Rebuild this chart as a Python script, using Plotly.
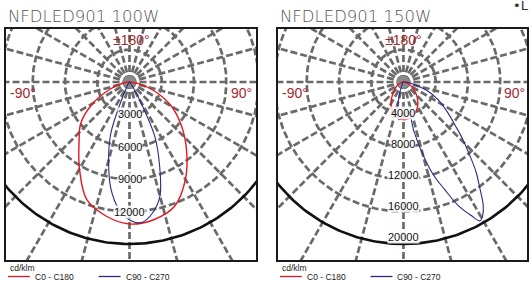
import numpy as np
import plotly.graph_objects as go

# ---------------- data ----------------
titles = ["NFDLED901 100W", "NFDLED901 150W"]
series_names = ["C0 - C180", "C90 - C270"]
unit_label = "cd/klm"

# gamma angles in degrees (negative = C180 / C270 half, positive = C0 / C90 half)
gamma_100_c0 = [-90, -80, -70, -60, -50, -40, -30, -20, -10, 0, 10, 20, 30, 40, 50, 60, 70, 80, 90]
int_100_c0 = [0, 650, 1900, 3900, 5900, 7300, 9300, 11600, 12600, 13150, 12950, 12250, 10400, 8250, 6300, 4500, 2500, 850, 0]

gamma_100_c90 = [-90, -40, -35, -30, -25, -20, -15, -10, -5, 0, 5, 10, 15, 20, 25, 30, 35, 40, 90]
int_100_c90 = [0, 100, 250, 460, 1400, 5100, 7500, 10000, 11760, 12780, 13060, 12320, 10930, 8150, 5560, 1670, 460, 150, 0]

gamma_150_c0 = [-90, -75, -60, -45, -30, -15, 0, 15, 30, 45, 60, 75, 90]
int_150_c0 = [0, 300, 950, 1750, 3100, 4250, 4650, 4350, 3500, 2300, 1250, 450, 0]

gamma_150_c90 = [-90, -30, -15, -7, 0, 5, 10, 12, 15, 18, 21, 24, 27, 29, 31, 33, 36, 39, 42, 46, 50, 55, 63, 70, 80, 90]
int_150_c90 = [0, 300, 2500, 4700, 4200, 3800, 3700, 6200, 9260, 12100, 14200, 16700, 18500, 19600, 19100, 18150, 16050, 14300, 12350, 10250, 8400, 6800, 4800, 3100, 1000, 0]

rings_100 = [3000, 6000, 9000, 12000]
outer_100 = 15000
rings_150 = [4000, 8000, 12000, 16000]
outer_150 = 20000
spoke_step = 15

RED = "#e3171e"
BLUE = "#2a2a86"
GRID = "#6a6a6a"
ANG = "#a3282c"

W, H = 529, 283

fig = go.Figure()

panels = [
    dict(xa="x", ya="y", box=(6, 257, 29, 260), c=(130, 82), outer=outer_100, rings=rings_100,
         curves=[(gamma_100_c0, int_100_c0, RED, 1.4), (gamma_100_c90, int_100_c90, BLUE, 1.1)],
         lab_fac=1.0, title=titles[0], ang=((2, 42), (-106.5, -11), (112, -11))),
    dict(xa="x2", ya="y2", box=(279, 530, 29, 260), c=(405, 82), outer=outer_150, rings=rings_150,
         curves=[(gamma_150_c0, int_150_c0, RED, 1.4), (gamma_150_c90, int_150_c90, BLUE, 1.1)],
         lab_fac=0.957, title=titles[1], ang=((0, 42), (-108.5, -11), (111, -11))),
]

R_PX = 162.0
layout_axes = {}
for i, p in enumerate(panels):
    x0, x1, y0, y1 = p["box"]
    cx, cy = p["c"]
    k = R_PX / p["outer"]  # px per unit
    xr = [(x0 - cx) / k, (x1 - cx) / k]
    yr = [-(y1 - cy) / k, (cy - y0) / k]
    sfx = "" if i == 0 else "2"
    xdom = [x0 / W, min(x1 / W, 1.0)]
    if x1 > W:
        xr[1] = (W - cx) / k
    ydom = [1 - y1 / H, 1 - y0 / H]
    ax = dict(range=xr, domain=xdom, showgrid=False, zeroline=False, showticklabels=False,
              showline=True, mirror=True, linecolor="#1a1a1a", linewidth=1.6, ticks="",
              fixedrange=True)
    ay = dict(range=yr, domain=ydom, showgrid=False, zeroline=False, showticklabels=False,
              showline=True, mirror=True, linecolor="#1a1a1a", linewidth=1.6, ticks="",
              fixedrange=True)
    if i == 1:
        ax["anchor"] = "y2"
        ay["anchor"] = "x2"
    layout_axes["xaxis" + sfx] = ax
    layout_axes["yaxis" + sfx] = ay

    far = p["outer"] * 3
    for a in np.arange(0, 360, spoke_step):
        t = np.deg2rad(a)
        fig.add_trace(go.Scatter(x=[0, far * np.sin(t)], y=[0, -far * np.cos(t)], mode="lines",
                                 line=dict(color=GRID, width=2.7, dash="7px,3px"),
                                 xaxis=p["xa"], yaxis=p["ya"], hoverinfo="skip", showlegend=False))
    th = np.deg2rad(np.linspace(0, 360, 361))
    for r in p["rings"]:
        fig.add_trace(go.Scatter(x=r * np.sin(th), y=-r * np.cos(th), mode="lines",
                                 line=dict(color=GRID, width=2.7, dash="7px,3px"),
                                 xaxis=p["xa"], yaxis=p["ya"], hoverinfo="skip", showlegend=False))
    fig.add_trace(go.Scatter(x=p["outer"] * np.sin(th), y=-p["outer"] * np.cos(th), mode="lines",
                             line=dict(color="#111111", width=2.6),
                             xaxis=p["xa"], yaxis=p["ya"], hoverinfo="skip", showlegend=False))
    fig.add_trace(go.Scatter(x=[0], y=[0], mode="markers",
                             marker=dict(size=13, color="#8a8a8a", line=dict(width=0)),
                             xaxis=p["xa"], yaxis=p["ya"], hoverinfo="skip", showlegend=False))
    for g, v, col, lw in p["curves"]:
        gr = np.deg2rad(np.array(g, dtype=float))
        vv = np.array(v, dtype=float)
        fig.add_trace(go.Scatter(x=vv * np.sin(gr), y=-vv * np.cos(gr), mode="lines",
                                 line=dict(color=col, width=lw, shape="spline", smoothing=1.0),
                                 xaxis=p["xa"], yaxis=p["ya"], hoverinfo="skip", showlegend=False))
    for r in p["rings"] + [p["outer"]]:
        if r == p["outer"] and i == 0:
            continue
        fig.add_annotation(x=0, y=-r * p["lab_fac"], xref=p["xa"], yref=p["ya"], text=str(r),
                           showarrow=False, font=dict(family="Liberation Sans, Arial", size=11, color="#111"),
                           bgcolor="rgba(255,255,255,0.85)", borderpad=0)
    for txt, (dx, dy) in zip(["±180°", "-90°", "90°"], p["ang"]):
        fig.add_annotation(x=0, y=0, xref=p["xa"], yref=p["ya"], text=txt, showarrow=False,
                           xshift=dx, yshift=dy,
                           font=dict(family="Liberation Sans, Arial", size=14, color=ANG))
    fig.add_annotation(x=x0 / W, y=1 - 17 / H, xref="paper", yref="paper", text=p["title"],
                       showarrow=False, xanchor="left", yanchor="middle",
                       font=dict(family="DejaVu Sans", size=16.5, color="#555555", weight=300))
    lx = x0 + 2
    fig.add_annotation(x=lx / W, y=1 - 268 / H, xref="paper", yref="paper", text=unit_label,
                       showarrow=False, xanchor="left", yanchor="middle",
                       font=dict(family="Liberation Sans, Arial", size=8.5, color="#222"))
    for j, (name, col) in enumerate(zip(series_names, [RED, BLUE])):
        sx = lx + j * 91
        fig.add_shape(type="line", xref="paper", yref="paper", x0=sx / W, x1=(sx + 22) / W,
                      y0=1 - 276.5 / H, y1=1 - 276.5 / H, line=dict(color=col, width=1.3))
        fig.add_annotation(x=(sx + 25) / W, y=1 - 277 / H, xref="paper", yref="paper", text=name,
                           showarrow=False, xanchor="left", yanchor="middle",
                           font=dict(family="Liberation Sans, Arial", size=8.5, color="#222"))

fig.add_annotation(x=513 / W, y=1 - 5 / H, xref="paper", yref="paper", text="•L",
                   showarrow=False, xanchor="left", yanchor="middle",
                   font=dict(family="DejaVu Sans", size=13, color="#333"))

fig.update_layout(width=W, height=H, margin=dict(l=0, r=0, t=0, b=0),
                  paper_bgcolor="white", plot_bgcolor="white", showlegend=False,
                  **layout_axes)

fig.write_html("out.html", config={"displayModeBar": False, "staticPlot": True},
               post_script="document.body.style.margin='0px';document.body.style.overflow='hidden';")
